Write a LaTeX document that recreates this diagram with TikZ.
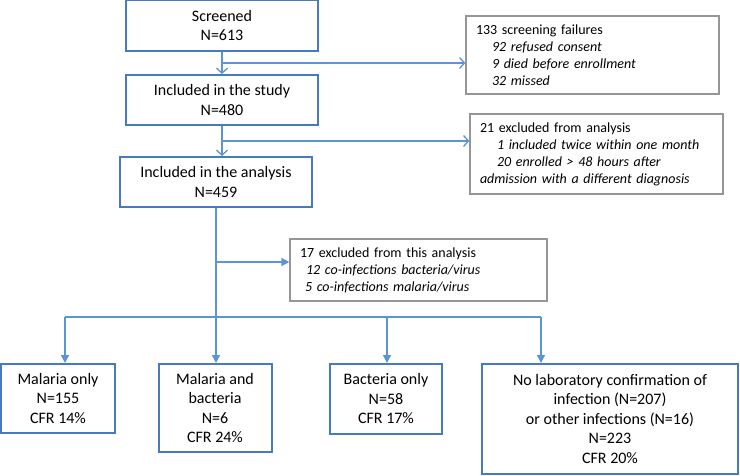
\documentclass[tikz,border=0pt]{standalone}
\usepackage{fontspec}
\setmainfont{Carlito}
\usepackage{xcolor}
\definecolor{myblue}{RGB}{72,122,192}
\definecolor{mylink}{RGB}{91,150,212}
\definecolor{mygrey}{RGB}{150,150,150}
\usetikzlibrary{arrows.meta}

\begin{document}
\begin{tikzpicture}[x=1pt,y=-1pt]
	\tikzstyle{mainbox}=[draw=myblue,line width=2pt,align=center,inner sep=0pt,font=\fontsize{16}{19.5}\selectfont];
	\tikzstyle{sidebox}=[draw=mygrey,line width=1.2pt,align=left,inner xsep=10pt,inner ysep=0pt,font=\fontsize{14}{17}\selectfont];
	\tikzstyle{link}=[draw=mylink,line width=1.3pt];
	\tikzstyle{arrowopen}=[link,-{Straight Barb[length=5pt,width=11pt]}];
	\tikzstyle{arrowfull}=[link,-{Triangle[length=8pt,width=8pt]}];
	\useasboundingbox (0,0) rectangle (740,475);
	\node[mainbox,minimum width=192pt,minimum height=51pt] (scr) at (222,25.5) {Screened\\N=613};
	\node[mainbox,minimum width=192pt,minimum height=50pt] (inc) at (222,100) {Included in the study\\N=480};
	\node[mainbox,minimum width=192pt,minimum height=50pt] (ana) at (216,182) {Included in the analysis\\N=459};
	\node[sidebox,text width=233pt,minimum height=78pt] (fail) at (592.5,55) {133 screening failures\\
		\hspace*{16pt}\textit{92 refused consent}\\
		\hspace*{16pt}\textit{9 died before enrollment}\\
		\hspace*{16pt}\textit{32 missed}};
	\node[sidebox,text width=233pt,minimum height=80pt] (excl) at (596.5,154) {21 excluded from analysis\\
		\hspace*{17pt}\textit{1 included twice within one month}\\
		\hspace*{17pt}\textit{20 enrolled > 48 hours after}\\
		\textit{admission with a different diagnosis}};
	\node[sidebox,text width=237pt,minimum height=62pt] (excla) at (418.5,270) {17 excluded from this analysis\\
		\hspace*{6pt}\textit{12 co-infections bacteria/virus}\\
		\hspace*{5pt}\textit{5 co-infections malaria/virus}};
	\node[mainbox,minimum width=114pt,minimum height=69pt] (mal) at (58,398.5) {Malaria only\\N=155\\CFR 14\%};
	\node[mainbox,minimum width=113pt,minimum height=88pt] (malbac) at (215,408) {Malaria and\\bacteria\\N=6\\CFR 24\%};
	\node[mainbox,minimum width=112pt,minimum height=70pt] (bac) at (386,399) {Bacteria only\\N=58\\CFR 17\%};
	\node[mainbox,minimum width=256pt,minimum height=110pt] (nolab) at (610,419) {No laboratory confirmation of\\infection (N=207)\\or other infections (N=16)\\N=223\\CFR 20\%};
	\coordinate (b1) at (222,63);
	\coordinate (b2) at (222,141);
	\coordinate (b3) at (216,262);
	\coordinate (bus) at (216,317);
	\coordinate (d1) at (65,317);
	\coordinate (d3) at (387,317);
	\coordinate (d4) at (541,317);
	\draw[arrowopen] (scr) -- (inc);
	\draw[arrowopen] (b1) -- (b1 -| fail.west);
	\draw[arrowopen] (inc.south) -- (inc.south |- ana.north);
	\draw[arrowopen] (b2) -- (b2 -| excl.west);
	\draw[link] (ana.south) -- (bus);
	\draw[arrowfull] (b3) -- (b3 -| excla.west);
	\draw[link] (d1) -- (d4);
	\draw[arrowfull] (d1) -- (d1 |- mal.north);
	\draw[arrowfull] (bus) -- (bus |- malbac.north);
	\draw[arrowfull] (d3) -- (d3 |- bac.north);
	\draw[arrowfull] (d4) -- (d4 |- nolab.north);
\end{tikzpicture}
\end{document}
